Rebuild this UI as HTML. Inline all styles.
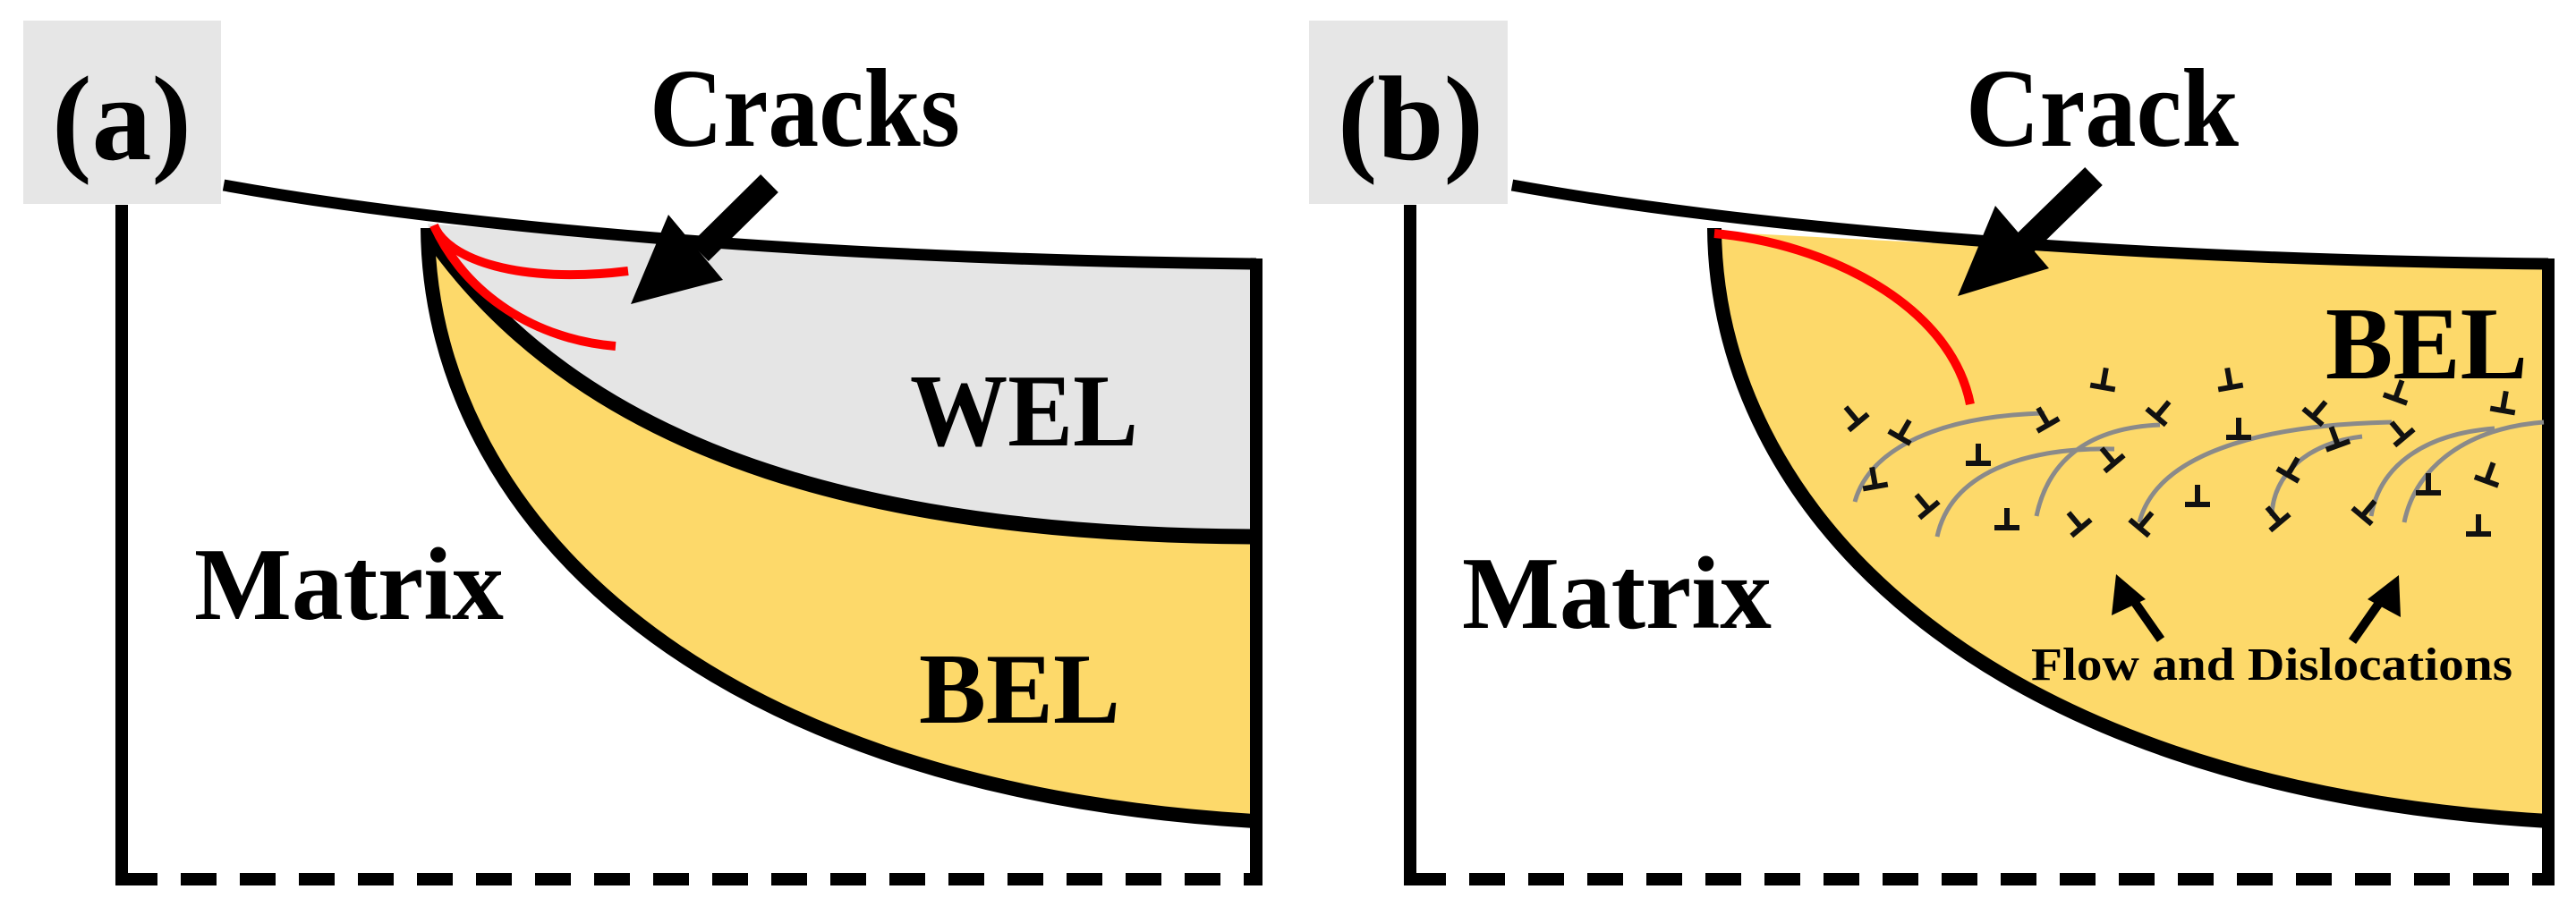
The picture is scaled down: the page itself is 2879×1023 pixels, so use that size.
<!DOCTYPE html>
<html><head><style>html,body{margin:0;padding:0;background:#fff}svg{display:block}</style></head>
<body>
<svg width="2879" height="1023" viewBox="0 0 2879 1023" xmlns="http://www.w3.org/2000/svg" font-family="Liberation Serif, serif" font-weight="bold">
<defs>
<path id="t" d="M-14,0 H14 M0,0 V-22" stroke="#111" stroke-width="6" fill="none"/>
</defs>
<!-- Panel A -->
<g>
<rect x="26" y="23" width="221" height="205" fill="#e6e6e6"/>
<text x="58" y="178" font-size="135" textLength="156" lengthAdjust="spacingAndGlyphs">(a)</text>
<path d="M478,250 C 780,275 1100,292 1402,295 L1402,600 C 1000,598 660,520 480,262 Z" fill="#e5e5e5"/>
<path d="M480,262 C 660,520 1000,598 1402,600 L1402,918 C 760,880 480,560 478,260 Z" fill="#fdd96a"/>
<path d="M1402,600 C 1000,598 660,520 480,262" fill="none" stroke="#000" stroke-width="17"/>
<path d="M478,255 C 480,560 760,880 1402,918" fill="none" stroke="#000" stroke-width="16"/>
<path d="M250,207 C 500,252 900,290 1404,295" fill="none" stroke="#000" stroke-width="13"/>
<line x1="136" y1="229" x2="136" y2="990" stroke="#000" stroke-width="14"/>
<line x1="1404" y1="289" x2="1404" y2="990" stroke="#000" stroke-width="14"/>
<line x1="136" y1="983" x2="1411" y2="983" stroke="#000" stroke-width="14" stroke-dasharray="40,26"/>
<path d="M485,252 C 500,290 580,318 702,303" fill="none" stroke="#f00" stroke-width="10"/>
<path d="M485,252 C 520,330 600,380 688,387" fill="none" stroke="#f00" stroke-width="10"/>
<line x1="860" y1="205" x2="782" y2="282" stroke="#000" stroke-width="28"/>
<polygon points="705,340 747,240 808,313" fill="#000"/>
<text x="726" y="163" font-size="125" textLength="347" lengthAdjust="spacingAndGlyphs">Cracks</text>
<text x="1017" y="498" font-size="115" textLength="255" lengthAdjust="spacingAndGlyphs">WEL</text>
<text x="1027" y="808" font-size="112" textLength="225" lengthAdjust="spacingAndGlyphs">BEL</text>
<text x="217" y="692" font-size="115" textLength="346" lengthAdjust="spacingAndGlyphs">Matrix</text>
</g>
<!-- Panel B -->
<g transform="translate(1440,0)">
<rect x="23" y="23" width="222" height="205" fill="#e6e6e6"/>
<text x="55" y="178" font-size="135" textLength="163" lengthAdjust="spacingAndGlyphs">(b)</text>
<path d="M476,259 C 780,275 1100,292 1408,295 L1408,918 C 760,880 478,560 476,259 Z" fill="#fdd96a"/>
<path d="M476,255 C 478,560 760,880 1408,918" fill="none" stroke="#000" stroke-width="16"/>
<path d="M250,207 C 500,252 900,290 1408,295" fill="none" stroke="#000" stroke-width="13"/>
<line x1="136" y1="229" x2="136" y2="990" stroke="#000" stroke-width="14"/>
<line x1="1408" y1="289" x2="1408" y2="990" stroke="#000" stroke-width="14"/>
<line x1="136" y1="983" x2="1415" y2="983" stroke="#000" stroke-width="14" stroke-dasharray="40,26"/>
<path d="M476,261 C 600,272 740,340 762,452" fill="none" stroke="#f00" stroke-width="10"/>
<line x1="900" y1="197" x2="820" y2="275" stroke="#000" stroke-width="28"/>
<polygon points="748,331 790,230 850,300" fill="#000"/>
<text x="757" y="163" font-size="125" textLength="305" lengthAdjust="spacingAndGlyphs">Crack</text>
<text x="1159" y="423" font-size="115" textLength="226" lengthAdjust="spacingAndGlyphs">BEL</text>
<text x="194" y="702" font-size="115" textLength="346" lengthAdjust="spacingAndGlyphs">Matrix</text>
<text x="830" y="760" font-size="52" textLength="538" lengthAdjust="spacingAndGlyphs">Flow and Dislocations</text>
<line x1="975" y1="715" x2="940" y2="665" stroke="#000" stroke-width="10"/>
<polygon points="925,642 920,688 958,670" fill="#000"/>
<line x1="1189" y1="717" x2="1224" y2="667" stroke="#000" stroke-width="10"/>
<polygon points="1241,643 1206,670 1243,690" fill="#000"/>
</g>
<g fill="none" stroke="#8a8a8a" stroke-width="5">
<path d="M2073,561 C 2090,500 2170,465 2285,462"/>
<path d="M2165,600 C 2180,530 2260,500 2363,502"/>
<path d="M2276,577 C 2290,510 2340,478 2414,475"/>
<path d="M2391,584 C 2410,510 2520,475 2673,472"/>
<path d="M2539,577 C 2540,530 2580,495 2640,488"/>
<path d="M2650,577 C 2660,520 2710,485 2788,479"/>
<path d="M2687,584 C 2700,520 2760,478 2843,472"/>
</g>
<g>
<use href="#t" transform="translate(2077,472) rotate(-40)"/>
<use href="#t" transform="translate(2123,489) rotate(30)"/>
<use href="#t" transform="translate(2289,475) rotate(-30)"/>
<use href="#t" transform="translate(2350,433) rotate(10)"/>
<use href="#t" transform="translate(2410,466) rotate(40)"/>
<use href="#t" transform="translate(2493,433) rotate(-10)"/>
<use href="#t" transform="translate(2502,489) rotate(0)"/>
<use href="#t" transform="translate(2585,466) rotate(40)"/>
<use href="#t" transform="translate(2613,498) rotate(-20)"/>
<use href="#t" transform="translate(2677,446) rotate(20)"/>
<use href="#t" transform="translate(2687,489) rotate(-40)"/>
<use href="#t" transform="translate(2797,459) rotate(10)"/>
<use href="#t" transform="translate(2211,518) rotate(0)"/>
<use href="#t" transform="translate(2363,518) rotate(-40)"/>
<use href="#t" transform="translate(2096,544) rotate(-10)"/>
<use href="#t" transform="translate(2156,570) rotate(-40)"/>
<use href="#t" transform="translate(2243,590) rotate(0)"/>
<use href="#t" transform="translate(2326,590) rotate(-40)"/>
<use href="#t" transform="translate(2391,590) rotate(40)"/>
<use href="#t" transform="translate(2456,564) rotate(0)"/>
<use href="#t" transform="translate(2548,584) rotate(-40)"/>
<use href="#t" transform="translate(2557,531) rotate(30)"/>
<use href="#t" transform="translate(2640,577) rotate(40)"/>
<use href="#t" transform="translate(2714,551) rotate(0)"/>
<use href="#t" transform="translate(2779,538) rotate(20)"/>
<use href="#t" transform="translate(2770,597) rotate(0)"/>
</g>
</svg>
</body></html>
